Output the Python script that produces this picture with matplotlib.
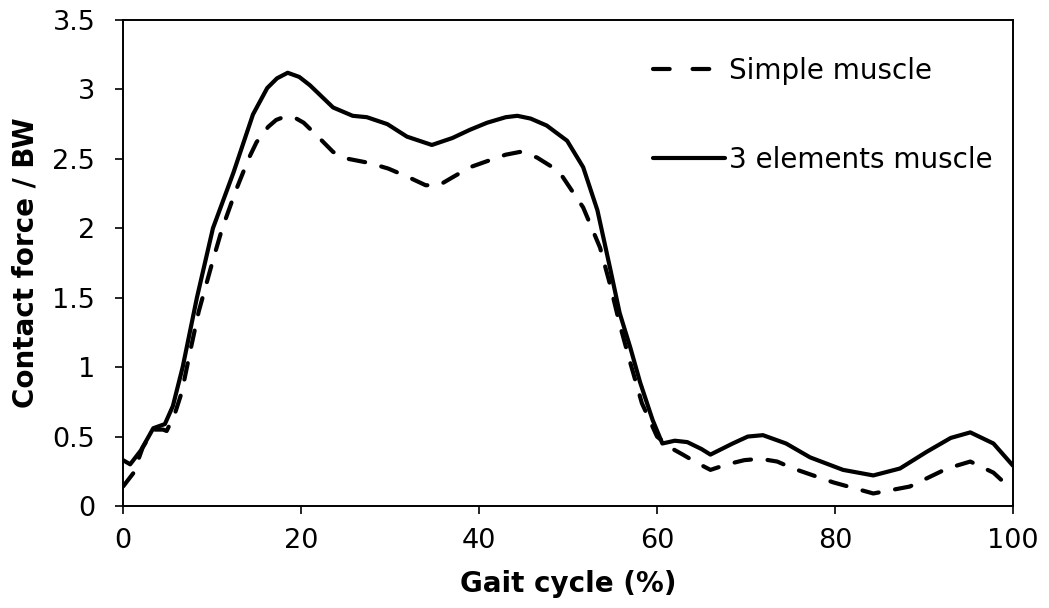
import matplotlib
matplotlib.use("Agg")
import matplotlib.pyplot as plt

plt.rcParams['font.family'] = ['DejaVu Sans']

# Simple muscle (dashed)
simple_x = [0, 1.2, 2.2, 3.4, 4.5, 4.9, 5.8, 6.6, 7.5, 8.5, 10.1, 11.1, 12.6, 14.1,
            15.0, 16.3, 17.2, 18.0, 19.2, 20.3, 21.9, 23.6, 25.3, 27.7, 29.8, 32.0,
            34.0, 35.5, 37.1, 39.0, 41.2, 43.0, 44.6, 46.5, 48.0, 49.4, 51.7, 53.6,
            54.7, 55.8, 57.0, 58.3, 60.0, 61.5, 62.9, 64.5, 66.0, 67.9, 69.8, 71.6,
            73.5, 75.3, 79.8, 84.3, 88.4, 92.6, 95.2, 97.8, 100]
simple_y = [0.14, 0.24, 0.42, 0.55, 0.55, 0.54, 0.66, 0.82, 1.10, 1.40, 1.77, 1.99, 2.26, 2.50,
            2.62, 2.73, 2.78, 2.80, 2.80, 2.76, 2.66, 2.55, 2.50, 2.47, 2.43, 2.37,
            2.31, 2.31, 2.37, 2.44, 2.49, 2.53, 2.55, 2.51, 2.45, 2.37, 2.15, 1.86,
            1.60, 1.31, 1.03, 0.74, 0.50, 0.42, 0.37, 0.31, 0.26, 0.30, 0.33, 0.34,
            0.32, 0.27, 0.17, 0.09, 0.14, 0.27, 0.32, 0.24, 0.11]

# 3 elements muscle (solid)
elem_x = [0, 0.8, 2.0, 3.4, 4.7, 5.6, 6.7, 8.3, 10.1, 12.4, 14.6, 16.2, 17.3, 18.5,
          19.8, 21.0, 23.6, 25.8, 27.4, 29.7, 31.9, 34.7, 37.0, 39.0, 40.9, 43.0,
          44.3, 45.8, 47.6, 49.9, 51.7, 53.3, 54.7, 55.8, 57.0, 58.1, 59.5, 60.6,
          62.0, 63.4, 65.0, 66.0, 68.5, 70.2, 71.9, 74.5, 77.2, 80.9, 84.3, 87.3,
          90.3, 93.0, 95.2, 97.8, 100]
elem_y = [0.33, 0.30, 0.40, 0.56, 0.59, 0.72, 1.00, 1.50, 2.00, 2.40, 2.82, 3.01, 3.08, 3.12,
          3.09, 3.03, 2.87, 2.81, 2.80, 2.75, 2.66, 2.60, 2.65, 2.71, 2.76, 2.80,
          2.81, 2.79, 2.74, 2.63, 2.44, 2.13, 1.72, 1.39, 1.14, 0.89, 0.62, 0.45,
          0.47, 0.46, 0.41, 0.37, 0.45, 0.50, 0.51, 0.45, 0.35, 0.26, 0.22, 0.27,
          0.39, 0.49, 0.53, 0.45, 0.29]

fig = plt.figure(figsize=(10.49, 6.08), dpi=100)
ax = fig.add_axes([0.1173, 0.1678, 0.8484, 0.7993])

ax.plot(simple_x, simple_y, color='black', lw=3, dashes=(4, 4),
        dash_capstyle='round', solid_joinstyle='round', label='Simple muscle')
ax.plot(elem_x, elem_y, color='black', lw=3, solid_capstyle='round',
        solid_joinstyle='round', label='3 elements muscle')

ax.set_xlim(0, 100)
ax.set_ylim(0, 3.5)
ax.set_xticks([0, 20, 40, 60, 80, 100])
ax.set_yticks([0, 0.5, 1, 1.5, 2, 2.5, 3, 3.5])
ax.set_yticklabels(['0', '0.5', '1', '1.5', '2', '2.5', '3', '3.5'])
ax.tick_params(direction='out', length=6, width=1.2, labelsize=19.5)
ax.tick_params(axis='x', pad=10)
ax.tick_params(axis='y', pad=14)
for s in ax.spines.values():
    s.set_linewidth(1.4)

ax.set_xlabel('Gait cycle (%)', fontsize=20, fontweight='bold')
ax.set_ylabel('Contact force / BW', fontsize=20, fontweight='bold')
ax.xaxis.set_label_coords(0.5, -0.132)
ax.yaxis.set_label_coords(-0.094, 0.5)

leg = ax.legend(loc='upper left', bbox_to_anchor=(0.5676, 0.976), frameon=False,
                fontsize=20, handlelength=2.6, handletextpad=0.12, labelspacing=2.2)
# two dashes only in the legend sample
leg.get_lines()[0].set_dashes((4, 5.5))

fig.savefig('out.png', dpi=100)
